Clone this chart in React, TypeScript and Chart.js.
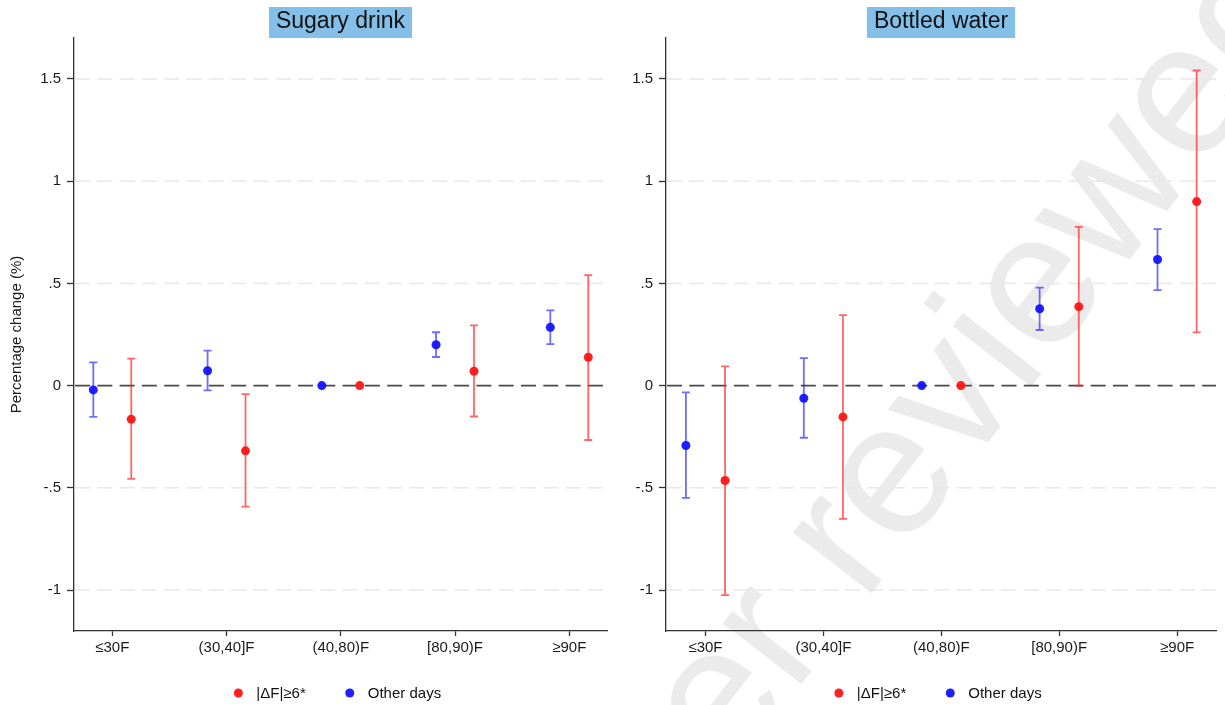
import React, { useEffect, useRef } from "react";
import { Chart, registerables } from "chart.js";

Chart.register(...registerables);

// ---------- data ----------
const categories = ["≤30F", "(30,40]F", "(40,80)F", "[80,90)F", "≥90F"];
const yTickValues = [-1, -0.5, 0, 0.5, 1, 1.5];
const yTickLabels = ["-1", "-.5", "0", ".5", "1", "1.5"];
const seriesNames = ["|ΔF|≥6*", "Other days"];

// Sugary drink
const sugaryShockEst = [-0.164, -0.319, 0, 0.07, 0.139];
const sugaryShockLo = [-0.456, -0.592, 0, -0.151, -0.266];
const sugaryShockHi = [0.132, -0.042, 0, 0.295, 0.54];
const sugaryOtherEst = [-0.021, 0.073, 0, 0.2, 0.285];
const sugaryOtherLo = [-0.153, -0.023, 0, 0.14, 0.203];
const sugaryOtherHi = [0.114, 0.171, 0, 0.261, 0.368];

// Bottled water
const waterShockEst = [-0.464, -0.153, 0, 0.386, 0.9];
const waterShockLo = [-1.025, -0.652, 0, 0.0, 0.26];
const waterShockHi = [0.094, 0.345, 0, 0.776, 1.541];
const waterOtherEst = [-0.293, -0.062, 0, 0.376, 0.617];
const waterOtherLo = [-0.549, -0.255, 0, 0.272, 0.467];
const waterOtherHi = [-0.033, 0.134, 0, 0.479, 0.765];

// ---------- style ----------
const FONT = "'Liberation Sans', Arial, Helvetica, sans-serif";
const RED = "rgba(255, 20, 20, 0.95)";
const RED_BAR = "rgba(255, 30, 30, 0.68)";
const BLUE = "rgba(20, 20, 255, 0.95)";
const BLUE_BAR = "rgba(30, 30, 255, 0.65)";
const OFFSET = 0.166;

const decorPlugin = {
  id: "panelDecor",
  beforeDatasetsDraw(chart: any) {
    const { ctx, chartArea, scales } = chart;
    const y = scales.y;
    ctx.save();
    // light dashed grid lines
    ctx.setLineDash([15, 7.3]);
    ctx.lineWidth = 1.5;
    ctx.strokeStyle = "#e8e8e8";
    for (const v of yTickValues) {
      if (v === 0) continue;
      const py = y.getPixelForValue(v);
      ctx.beginPath();
      ctx.moveTo(chartArea.left + 1, py);
      ctx.lineTo(chartArea.right, py);
      ctx.stroke();
    }
    // zero reference line
    ctx.strokeStyle = "#4a4a4a";
    ctx.lineWidth = 1.8;
    const p0 = y.getPixelForValue(0);
    ctx.beginPath();
    ctx.moveTo(chartArea.left + 1, p0);
    ctx.lineTo(chartArea.right, p0);
    ctx.stroke();
    ctx.setLineDash([]);
    // error bars
    chart.data.datasets.forEach((ds: any, di: number) => {
      const meta = chart.getDatasetMeta(di);
      ds.errLo.forEach((lo: number, i: number) => {
        const hi = ds.errHi[i];
        if (lo === hi) return;
        const px = meta.data[i].x;
        const yl = y.getPixelForValue(lo);
        const yh = y.getPixelForValue(hi);
        ctx.strokeStyle = ds.errColor;
        ctx.lineWidth = 1.8;
        ctx.beginPath();
        ctx.moveTo(px, yl);
        ctx.lineTo(px, yh);
        ctx.moveTo(px - 4, yl);
        ctx.lineTo(px + 4, yl);
        ctx.moveTo(px - 4, yh);
        ctx.lineTo(px + 4, yh);
        ctx.stroke();
      });
    });
    ctx.restore();
  },
  afterDraw(chart: any, _args: any, opts: any) {
    const { ctx, chartArea } = chart;
    const cx = (chartArea.left + chartArea.right) / 2;
    ctx.save();
    // title box
    ctx.font = `23px ${FONT}`;
    const tw = ctx.measureText(opts.title).width;
    const bw = tw + 14;
    ctx.fillStyle = "#84bfe8";
    ctx.fillRect(cx - bw / 2, 7, bw, 31);
    ctx.fillStyle = "#111";
    ctx.textAlign = "center";
    ctx.textBaseline = "middle";
    ctx.fillText(opts.title, cx, 21.5);
    // legend
    ctx.font = `15px ${FONT}`;
    ctx.textAlign = "left";
    const w1 = ctx.measureText(seriesNames[0]).width;
    const w2 = ctx.measureText(seriesNames[1]).width;
    const total = 4.5 + 18 + w1 + 44 + 18 + w2;
    let x = cx - 3 - total / 2;
    const ly = 693;
    const items = [
      { name: seriesNames[0], color: RED, w: w1 },
      { name: seriesNames[1], color: BLUE, w: w2 },
    ];
    items.forEach((it, k) => {
      const dotX = k === 0 ? x + 4.5 : x;
      ctx.fillStyle = it.color;
      ctx.beginPath();
      ctx.arc(dotX, ly, 4.5, 0, Math.PI * 2);
      ctx.fill();
      ctx.fillStyle = "#111";
      ctx.fillText(it.name, dotX + 18, ly + 1);
      x = dotX + 18 + it.w + 44;
    });
    ctx.restore();
  },
};

function makeConfig(
  title: string,
  shockEst: number[],
  shockLo: number[],
  shockHi: number[],
  otherEst: number[],
  otherLo: number[],
  otherHi: number[],
  showYTitle: boolean,
  yWidth: number,
  padRight: number
): any {
  return {
    type: "scatter",
    data: {
      datasets: [
        {
          label: seriesNames[0],
          data: shockEst.map((v, i) => ({ x: i + 1 + OFFSET, y: v })),
          errLo: shockLo,
          errHi: shockHi,
          errColor: RED_BAR,
          backgroundColor: RED,
          borderColor: RED,
          pointRadius: 4.5,
          borderWidth: 0,
        },
        {
          label: seriesNames[1],
          data: otherEst.map((v, i) => ({ x: i + 1 - OFFSET, y: v })),
          errLo: otherLo,
          errHi: otherHi,
          errColor: BLUE_BAR,
          backgroundColor: BLUE,
          borderColor: BLUE,
          pointRadius: 4.5,
          borderWidth: 0,
        },
      ],
    },
    options: {
      responsive: false,
      animation: false,
      devicePixelRatio: 1,
      layout: { padding: { top: 38, right: padRight, left: 0, bottom: 0 } },
      plugins: {
        legend: { display: false },
        tooltip: { enabled: false },
        title: { display: false },
        panelDecor: { title },
      },
      scales: {
        x: {
          type: "linear",
          min: 0.665,
          max: 5.33,
          afterBuildTicks: (s: any) => {
            s.ticks = categories.map((_, i) => ({ value: i + 1 }));
          },
          afterFit: (s: any) => {
            s.height = 74;
          },
          ticks: {
            autoSkip: false,
            maxRotation: 0,
            minRotation: 0,
            padding: 3,
            color: "#1a1a1a",
            font: { family: FONT, size: 15 },
            callback: (v: number) => categories[Math.round(v) - 1] ?? "",
          },
          grid: {
            display: true,
            drawOnChartArea: false,
            drawTicks: true,
            tickLength: 5,
            tickColor: "#333",
            tickWidth: 1.3,
          },
          border: { display: true, color: "#333", width: 1.3 },
        },
        y: {
          type: "linear",
          min: -1.2,
          max: 1.7,
          afterBuildTicks: (s: any) => {
            s.ticks = yTickValues.map((v) => ({ value: v }));
          },
          afterFit: (s: any) => {
            s.width = yWidth;
          },
          ticks: {
            autoSkip: false,
            padding: 6,
            color: "#1a1a1a",
            font: { family: FONT, size: 15 },
            callback: (v: number) => {
              const idx = yTickValues.findIndex((t) => Math.abs(t - v) < 1e-9);
              return idx >= 0 ? yTickLabels[idx] : "";
            },
          },
          grid: {
            display: true,
            drawOnChartArea: false,
            drawTicks: true,
            tickLength: 7,
            tickColor: "#333",
            tickWidth: 1.3,
          },
          border: { display: true, color: "#333", width: 1.3 },
          title: {
            display: showYTitle,
            text: "Percentage change (%)",
            color: "#1a1a1a",
            font: { family: FONT, size: 15 },
            padding: { top: 8, bottom: 0 },
          },
        },
      },
    },
    plugins: [decorPlugin],
  };
}

function Panel(props: { config: () => any; left: number; width: number }) {
  const ref = useRef<HTMLCanvasElement>(null);
  useEffect(() => {
    const chart = new Chart(ref.current as HTMLCanvasElement, props.config());
    return () => chart.destroy();
  }, []);
  return (
    <canvas
      ref={ref}
      width={props.width}
      height={705}
      style={{ position: "absolute", left: props.left, top: 0, width: props.width, height: 705 }}
    />
  );
}

export default function App() {
  return (
    <div
      style={{
        position: "fixed",
        left: 0,
        top: 0,
        width: 1225,
        height: 705,
        overflow: "hidden",
        background: "#fff",
      }}
    >
      <div
        style={{
          position: "absolute",
          left: 265,
          top: 1118,
          transformOrigin: "0 0",
          transform: "rotate(-52.3deg)",
          fontFamily: FONT,
          fontSize: 188,
          lineHeight: 1,
          color: "#ebebeb",
          whiteSpace: "nowrap",
        }}
      >
        Not peer reviewed
      </div>
      <Panel
        left={0}
        width={612}
        config={() =>
          makeConfig(
            "Sugary drink",
            sugaryShockEst,
            sugaryShockLo,
            sugaryShockHi,
            sugaryOtherEst,
            sugaryOtherLo,
            sugaryOtherHi,
            true,
            74,
            5
          )
        }
      />
      <Panel
        left={612}
        width={613}
        config={() =>
          makeConfig(
            "Bottled water",
            waterShockEst,
            waterShockLo,
            waterShockHi,
            waterOtherEst,
            waterOtherLo,
            waterOtherHi,
            false,
            54,
            9
          )
        }
      />
    </div>
  );
}
